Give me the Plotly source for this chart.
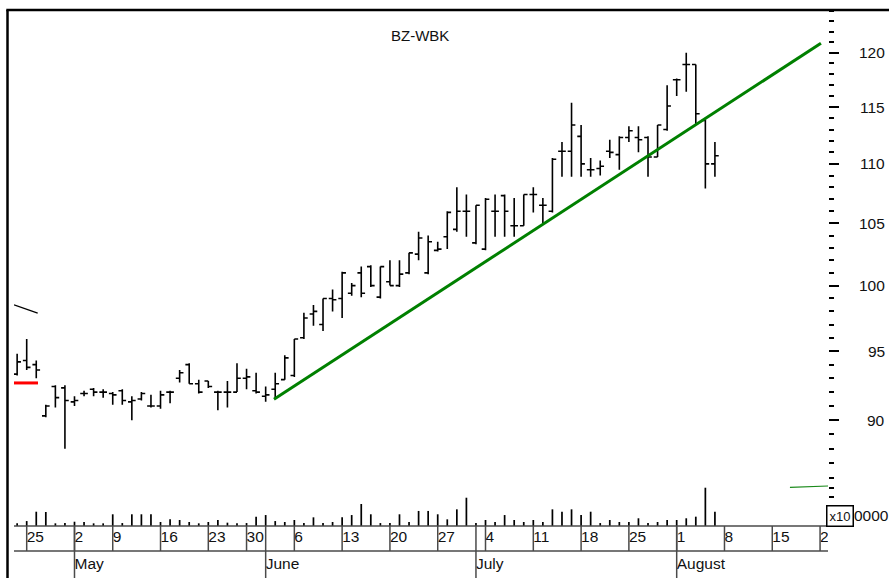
import math
import pandas as pd
import plotly.graph_objects as go

# ---------------- data ----------------
dates = ["2005-04-22", "2005-04-25", "2005-04-26", "2005-04-27", "2005-04-28", "2005-04-29",
         "2005-05-02", "2005-05-04", "2005-05-05", "2005-05-06",
         "2005-05-09", "2005-05-10", "2005-05-11", "2005-05-12", "2005-05-13",
         "2005-05-16", "2005-05-17", "2005-05-18", "2005-05-19", "2005-05-20",
         "2005-05-23", "2005-05-24", "2005-05-25", "2005-05-27",
         "2005-05-30", "2005-05-31", "2005-06-01", "2005-06-02", "2005-06-03",
         "2005-06-06", "2005-06-07", "2005-06-08", "2005-06-09", "2005-06-10",
         "2005-06-13", "2005-06-14", "2005-06-15", "2005-06-16", "2005-06-17",
         "2005-06-20", "2005-06-21", "2005-06-22", "2005-06-23", "2005-06-24",
         "2005-06-27", "2005-06-28", "2005-06-29", "2005-06-30", "2005-07-01",
         "2005-07-04", "2005-07-05", "2005-07-06", "2005-07-07", "2005-07-08",
         "2005-07-11", "2005-07-12", "2005-07-13", "2005-07-14", "2005-07-15",
         "2005-07-18", "2005-07-19", "2005-07-20", "2005-07-21", "2005-07-22",
         "2005-07-25", "2005-07-26", "2005-07-27", "2005-07-28", "2005-07-29",
         "2005-08-01", "2005-08-02", "2005-08-03", "2005-08-04", "2005-08-05"]

opens = [93.3, 94.3, 94.0, 90.3, 92.4, 92.3,
         91.3, 91.9, 92.2, 92.0,
         91.9, 92.1, 91.3, 91.5, 91.0,
         91.0, 92.0, 93.0, 94.0, 92.6,
         92.8, 92.0, 92.0, 92.0,
         93.0, 92.1, 91.7, 92.2, 92.9,
         93.2, 96.0, 97.8, 97.0, 99.0,
         99.0, 99.4, 101.0, 101.5, 99.1,
         100.3, 100.0, 101.0, 102.5, 101.0,
         102.8, 103.9, 104.5, 106.0, 103.4,
         102.9, 106.0, 107.3, 104.8, 104.8,
         107.4, 106.5, 106.0, 111.1, 111.1,
         112.4, 109.5, 109.6, 111.1, 110.8,
         112.3, 112.3, 112.3, 110.6, 113.0,
         117.5, 118.9, 118.9, 113.8, 110.0]

highs = [94.8, 95.9, 94.3, 91.1, 92.5, 92.5,
         91.7, 92.1, 92.3, 92.2,
         92.0, 92.2, 91.7, 92.0, 91.8,
         92.1, 92.1, 93.6, 94.1, 92.9,
         92.8, 92.1, 92.8, 94.1,
         93.7, 93.4, 92.4, 93.4, 94.7,
         95.9, 97.9, 98.5, 99.0, 99.7,
         101.1, 100.2, 101.5, 101.6, 101.5,
         102.0, 102.0, 102.6, 104.3, 104.0,
         103.5, 106.0, 108.0, 107.4, 106.5,
         107.1, 107.4, 107.4, 107.1, 107.4,
         108.0, 107.1, 110.5, 111.9, 115.4,
         113.4, 110.5, 110.3, 112.1, 112.4,
         113.3, 113.3, 112.4, 113.4, 117.0,
         117.6, 120.0, 118.9, 113.9, 111.9]

lows = [93.2, 93.6, 93.0, 90.2, 90.9, 88.0,
        91.0, 91.7, 91.7, 91.6,
        91.1, 91.1, 90.0, 91.4, 90.9,
        90.8, 91.2, 92.7, 92.6, 91.9,
        92.3, 90.7, 90.9, 92.0,
        92.2, 91.9, 91.3, 91.5, 92.9,
        93.1, 95.9, 96.9, 96.5, 98.0,
        97.5, 99.2, 99.1, 99.9, 99.0,
        100.0, 99.9, 100.9, 102.0, 100.9,
        102.7, 102.9, 104.3, 103.9, 103.3,
        102.8, 103.9, 103.9, 103.9, 104.8,
        105.9, 105.0, 105.9, 108.9, 108.9,
        108.9, 108.9, 109.0, 110.5, 109.5,
        111.9, 111.0, 108.9, 110.6, 112.9,
        116.0, 116.4, 113.5, 107.9, 108.9]

closes = [94.2, 93.8, 93.6, 91.0, 91.6, 91.4,
          91.4, 91.9, 92.0, 92.0,
          91.8, 91.4, 91.4, 91.9, 91.0,
          91.8, 92.0, 93.4, 92.6, 92.0,
          92.4, 92.0, 92.0, 93.0,
          93.1, 92.0, 91.8, 92.6, 94.5,
          95.9, 97.5, 98.0, 99.0, 98.9,
          101.0, 100.0, 99.4, 100.0, 101.5,
          100.0, 100.9, 102.6, 103.8, 103.5,
          102.9, 105.9, 106.0, 106.0, 106.5,
          107.0, 106.0, 106.0, 104.8, 107.4,
          107.4, 106.5, 110.4, 111.1, 113.4,
          110.0, 109.5, 109.8, 111.0, 112.3,
          112.9, 112.1, 110.6, 113.4, 115.1,
          117.5, 118.9, 114.4, 110.0, 110.7]

volumes = [28000, 52000, 150000, 147000, 28000, 31000,
           45000, 42000, 28000, 28000,
           123000, 31000, 123000, 123000, 123000,
           42000, 70000, 63000, 42000, 28000,
           42000, 63000, 35000, 28000,
           31000, 98000, 115000, 52000, 42000,
           63000, 31000, 91000, 31000, 42000,
           91000, 115000, 231000, 123000, 31000,
           31000, 123000, 42000, 158000, 158000,
           123000, 70000, 175000, 297000, 31000,
           63000, 42000, 115000, 63000, 42000,
           63000, 42000, 175000, 150000, 175000,
           115000, 150000, 31000, 63000, 42000,
           42000, 81000, 31000, 42000, 63000,
           63000, 81000, 98000, 402000, 150000]

# drawn lines (anchor dates / prices)
trend_dates = ["2005-06-02", "2005-08-22"]
trend_prices = [91.48, 120.9]
red_prices = [92.66, 92.66]
black_prices = [98.5, 97.86]
vol_avg = [405000, 420000]

week_dates = ["2005-04-25", "2005-05-02", "2005-05-09", "2005-05-16", "2005-05-23", "2005-05-30",
              "2005-06-06", "2005-06-13", "2005-06-20", "2005-06-27", "2005-07-04", "2005-07-11",
              "2005-07-18", "2005-07-25", "2005-08-01", "2005-08-08", "2005-08-15", "2005-08-22"]
week_labels = ["25", "2", "9", "16", "23", "30", "6", "13", "20", "27", "4", "11",
               "18", "25", "1", "8", "15", "22"]
month_dates = ["2005-05-02", "2005-06-01", "2005-07-01", "2005-08-01"]
month_labels = ["May", "June", "July", "August"]

price_major = [90, 95, 100, 105, 110, 115, 120]
price_minor = [v for v in range(83, 125) if v % 5 != 0]
vol_ticks = [300000, 400000]

title = "BZ-WBK"

# ---------------- trading-day calendar ----------------
holidays = ["2005-05-03", "2005-05-26"]
calendar = [d.strftime("%Y-%m-%d") for d in pd.bdate_range("2005-04-22", "2005-08-31")]
calendar = [d for d in calendar if d not in holidays]
pos = {d: i for i, d in enumerate(calendar)}
xs = [pos[d] for d in dates]

# geometry
W, H = 889, 578
L, R, T, B = 14, 61, 10, 0
PW, PH = W - L - R, H - T - B
row_h = 52                       # height of the two date rows in px
price_dom0 = row_h / PH
XR = [-0.3286, 84.83]
FONT = "Liberation Sans, Arial, sans-serif"
LBL = 15.5


def px_x(p):
    return (p - L) / PW


def px_y(p):
    return (H - B - p) / PH


fig = go.Figure()

fig.add_trace(go.Ohlc(
    x=xs, open=opens, high=highs, low=lows, close=closes,
    increasing=dict(line=dict(color="black", width=1.6)),
    decreasing=dict(line=dict(color="black", width=1.6)),
    tickwidth=0.4, xaxis="x", yaxis="y", hoverinfo="skip"))

fig.add_trace(go.Bar(
    x=xs, y=volumes, width=0.18, marker=dict(color="black", line=dict(width=0)),
    xaxis="x", yaxis="y2", hoverinfo="skip"))

t0 = pos[trend_dates[0]] - 0.13
t1 = pos[trend_dates[1]] + 0.09
fig.add_trace(go.Scatter(x=[t0, t1], y=trend_prices, mode="lines",
                         line=dict(color="#008000", width=3), yaxis="y", hoverinfo="skip"))
fig.add_trace(go.Scatter(x=[XR[0], 2.18], y=red_prices, mode="lines",
                         line=dict(color="#ff0000", width=3), yaxis="y", hoverinfo="skip"))
fig.add_trace(go.Scatter(x=[XR[0], 2.15], y=black_prices, mode="lines",
                         line=dict(color="black", width=1.3), yaxis="y", hoverinfo="skip"))
fig.add_trace(go.Scatter(x=[80.85, XR[1]], y=vol_avg, mode="lines",
                         line=dict(color="#1a8a1a", width=1.2), yaxis="y2", hoverinfo="skip"))

# date rows as clipped text
wk_x = [pos[d] for d in week_dates]
mo_x = [pos[d] for d in month_dates]
fig.add_trace(go.Scatter(x=wk_x, y=[39.5] * len(wk_x), mode="text", text=week_labels,
                         textposition="middle right", cliponaxis=True,
                         textfont=dict(family=FONT, size=LBL, color="#111"),
                         yaxis="y3", hoverinfo="skip"))
fig.add_trace(go.Scatter(x=mo_x, y=[13] * len(mo_x), mode="text", text=month_labels,
                         textposition="middle right", cliponaxis=True,
                         textfont=dict(family=FONT, size=LBL, color="#111"),
                         yaxis="y3", hoverinfo="skip"))

shapes = []
for xv in wk_x:
    shapes.append(dict(type="line", xref="x", yref="y3", x0=xv, x1=xv, y0=27, y1=52,
                       line=dict(color="#4a4a4a", width=1.5)))
for xv in mo_x:
    shapes.append(dict(type="line", xref="x", yref="y3", x0=xv, x1=xv, y0=0, y1=52,
                       line=dict(color="#4a4a4a", width=1.5)))
for yy in (526, 551):
    shapes.append(dict(type="line", xref="paper", yref="paper", x0=0, x1=1,
                       y0=px_y(yy), y1=px_y(yy), line=dict(color="#4a4a4a", width=1.5)))
# outer frame (left & top)
shapes.append(dict(type="line", xref="paper", yref="paper", x0=px_x(7.5), x1=px_x(7.5),
                   y0=px_y(10), y1=px_y(578), line=dict(color="black", width=2.5)))
shapes.append(dict(type="line", xref="paper", yref="paper", x0=px_x(6.3), x1=px_x(889),
                   y0=px_y(10), y1=px_y(10), line=dict(color="black", width=2.5)))

annotations = []
annotations.append(dict(text=title, xref="paper", yref="paper", x=px_x(420), y=px_y(35),
                        showarrow=False, font=dict(family=FONT, size=15, color="#111"),
                        xanchor="center", yanchor="middle"))
for v in price_major:
    annotations.append(dict(text=str(v), xref="paper", yref="y", x=px_x(887), y=math.log10(v),
                            showarrow=False, xanchor="right", yanchor="middle",
                            font=dict(family=FONT, size=LBL, color="#111")))
annotations.append(dict(text="x10", xref="paper", yref="paper", x=px_x(840), y=px_y(515.5),
                        showarrow=False, xanchor="center", yanchor="middle",
                        font=dict(family=FONT, size=13, color="#111"),
                        bordercolor="black", borderwidth=1.5, borderpad=2, bgcolor="white"))
annotations.append(dict(text="0000", xref="paper", yref="paper", x=px_x(852), y=px_y(515.5),
                        showarrow=False, xanchor="left", yanchor="middle",
                        font=dict(family=FONT, size=LBL, color="#111")))

lo, hi = 82.84, 124.09
fig.update_layout(
    width=W, height=H, margin=dict(l=L, r=R, t=T, b=B, pad=0),
    paper_bgcolor="white", plot_bgcolor="white", showlegend=False,
    font=dict(family=FONT, color="#111"),
    xaxis=dict(range=XR, showgrid=False, zeroline=False, showticklabels=False, ticks="",
               showline=False, rangeslider=dict(visible=False), fixedrange=True),
    yaxis=dict(type="log", domain=[price_dom0, 1], range=[math.log10(lo), math.log10(hi)],
               side="right", anchor="x", showgrid=False, zeroline=False, showline=False,
               tickmode="array", tickvals=price_major, ticks="outside", ticklen=10,
               tickwidth=2, tickcolor="black", showticklabels=False,
               minor=dict(tickmode="array", tickvals=price_minor, ticks="outside", ticklen=5,
                          tickwidth=2, tickcolor="black", showgrid=False)),
    yaxis2=dict(overlaying="y", side="right", anchor="x", range=[0, 5418000],
                showgrid=False, zeroline=False, showline=False, tickmode="array",
                tickvals=vol_ticks, ticks="outside", ticklen=5, tickwidth=2,
                tickcolor="black", showticklabels=False),
    yaxis3=dict(domain=[0, price_dom0], range=[0, 52], anchor="x", showgrid=False,
                zeroline=False, showline=False, showticklabels=False, ticks=""),
    shapes=shapes, annotations=annotations,
)

fig.write_html("out.html", config={"displayModeBar": False, "staticPlot": True},
               post_script="document.body.style.margin='0';document.body.style.overflow='hidden';")
